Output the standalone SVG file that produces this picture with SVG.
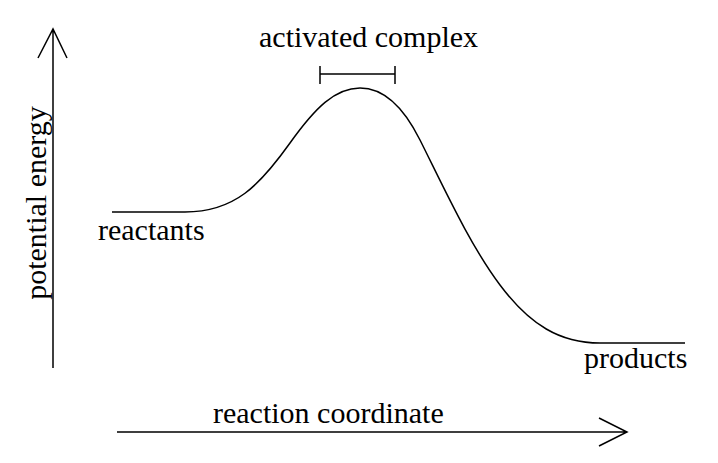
<svg xmlns="http://www.w3.org/2000/svg" width="718" height="463" viewBox="0 0 718 463">
<style>
.ln{fill:none;stroke:#000;stroke-width:1.5;stroke-linecap:butt;stroke-linejoin:miter}
text{font-family:'Liberation Serif','DejaVu Serif',serif;font-size:30px;fill:#000}
</style>
<rect width="718" height="463" fill="#fff"/>
<g id="connectors">
<path id="y-axis" class="ln" d="M53,368 V29 M38,58 L53,29 L67,58"/>
<path id="x-axis" class="ln" d="M117,432 H627 M599,418 L627,432 L599,446"/>
<path id="curve" class="ln" d="M112,212 H185 C235,212 260,185 290,143 C315,108 335,88 360,88 C385,88 405,110 420,140 C445,190 470,245 500,285 C530,325 560,343 600,343 H685"/>
<path id="bracket" class="ln" d="M320,74 H395 M320,66 V84 M395,66 V84"/>
</g>
<g id="label-activated"><text font-family="Liberation Serif, serif" x="259" y="47">activated complex</text></g>
<g id="label-reactants"><text font-family="Liberation Serif, serif" x="98" y="240">reactants</text></g>
<g id="label-products"><text font-family="Liberation Serif, serif" x="584" y="368">products</text></g>
<g id="label-x"><text font-family="Liberation Serif, serif" x="213" y="423">reaction coordinate</text></g>
<g id="label-y"><text font-family="Liberation Serif, serif" text-anchor="middle" transform="translate(46,203) rotate(-90)">potential energy</text></g>
</svg>
